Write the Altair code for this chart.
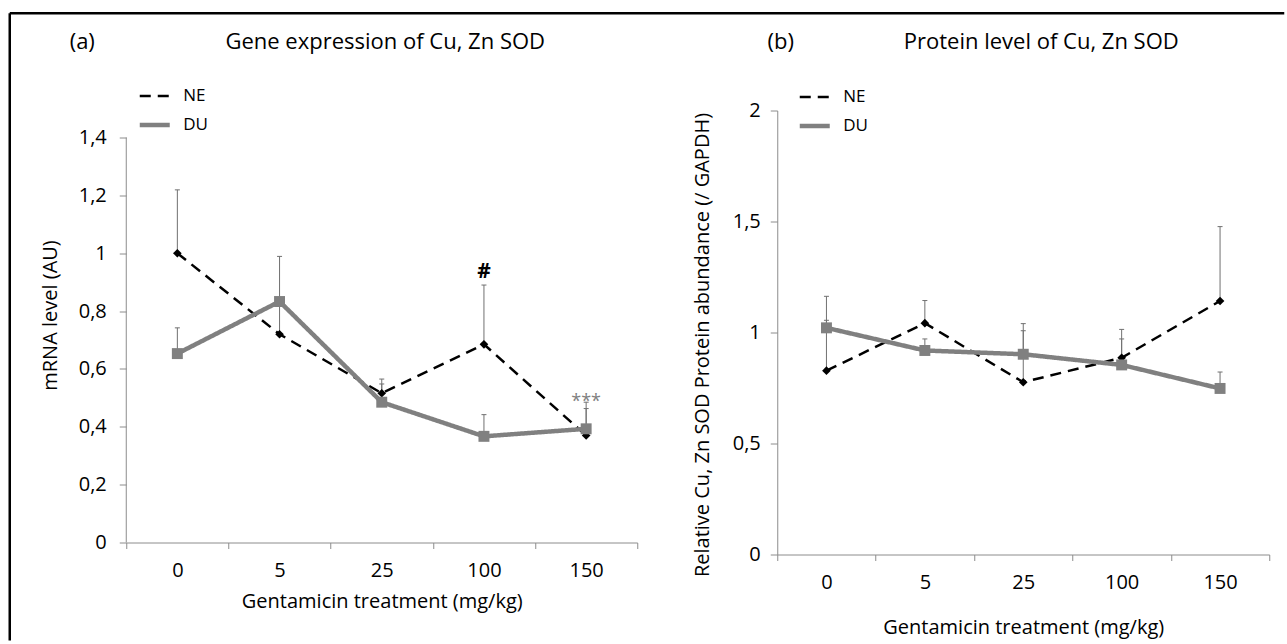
import altair as alt
import pandas as pd

# ---------------- data ----------------
doses = ["0", "5", "25", "100", "150"]
series_names = ["NE", "DU"]

# (a) mRNA level (AU): mean and top of the (upper) error bar
mrna_ne = [1.0, 0.72, 0.516, 0.685, 0.37]
mrna_ne_err = [1.219, 0.83, 0.565, 0.89, 0.485]
mrna_du = [0.653, 0.833, 0.485, 0.367, 0.393]
mrna_du_err = [0.742, 0.989, 0.548, 0.442, 0.463]

# (b) relative protein abundance (/ GAPDH)
prot_ne = [0.828, 1.042, 0.776, 0.886, 1.142]
prot_ne_err = [1.055, 1.144, 1.04, 1.014, 1.477]
prot_du = [1.021, 0.919, 0.902, 0.854, 0.748]
prot_du_err = [1.163, 0.971, 1.008, 0.971, 0.822]

mrna_ticks = [0, 0.2, 0.4, 0.6, 0.8, 1.0, 1.2, 1.4]
prot_ticks = [0, 0.5, 1.0, 1.5, 2.0]

# significance marks in panel (a)
hash_dose = ["100"]
hash_value = [0.89]
star_dose = ["150"]
star_value = [0.485]

FONT = "Open Sans"
GREY = "#808080"
AXIS_GREY = "#8c8c8c"
ERR_GREY = "#707070"
TICK_FS = 20
XTITLE_FS = 20
YTITLE_FS = 20
TITLE_FS = 22


def make_df(ne, ne_err, du, du_err):
    rows = []
    for s, vals, errs in (("NE", ne, ne_err), ("DU", du, du_err)):
        for d, v, e in zip(doses, vals, errs):
            rows.append({"series": s, "dose": d, "value": v, "err": e})
    return pd.DataFrame(rows)


def panel(df, width, height, ydomain, yticks, ytitle, ytitle_x, ytitle_y,
          y_label_pad, xtitle_y, legend_x, legend_y, tag, tag_x, title,
          title_x, title_y, axis_rule_top=None, extra=None):
    x_enc = alt.X(
        "dose:N", sort=doses, bandPosition=0.5,
        scale=alt.Scale(type="band", paddingInner=0, paddingOuter=0),
        axis=alt.Axis(title="Gentamicin treatment (mg/kg)", labelAngle=0,
                      tickBand="extent", tickSize=6, labelPadding=12,
                      titleY=xtitle_y, titleFontSize=XTITLE_FS,
                      labelFontSize=TICK_FS,
                      domainColor=AXIS_GREY, tickColor=AXIS_GREY,
                      labelColor="black", titleColor="black",
                      titleFontWeight="normal"),
    )
    y_enc = alt.Y(
        "value:Q",
        scale=alt.Scale(domain=ydomain, nice=False, zero=True),
        axis=alt.Axis(title=ytitle, values=yticks,
                      labelExpr="replace(datum.value + '', '.', ',')",
                      domain=(axis_rule_top is None), domainColor=AXIS_GREY,
                      tickSize=7, tickColor=AXIS_GREY, labelPadding=y_label_pad,
                      labelFontSize=TICK_FS, titleFontSize=YTITLE_FS,
                      titleFontWeight="normal", titleX=ytitle_x,
                      titleY=ytitle_y, labelColor="black", titleColor="black"),
    )
    leg = alt.Legend(orient="none", legendX=legend_x, legendY=legend_y,
                     title=None, symbolType="stroke", symbolSize=900,
                     labelFont=FONT, labelFontSize=17, labelOffset=11,
                     rowPadding=3, padding=0, labelColor="black")
    color = alt.Color("series:N", scale=alt.Scale(domain=series_names,
                      range=["#000000", GREY]), legend=leg)
    dash = alt.StrokeDash("series:N", scale=alt.Scale(domain=series_names,
                          range=[[11, 7], [1, 0]]), legend=leg)
    sw = alt.StrokeWidth("series:N", scale=alt.Scale(domain=series_names,
                         range=[2.5, 4.5]), legend=leg)

    base = alt.Chart(df)
    ne = base.transform_filter("datum.series == 'NE'")
    du = base.transform_filter("datum.series == 'DU'")

    err_rule = base.mark_rule(color=ERR_GREY, strokeWidth=1).encode(
        x=x_enc, y=y_enc, y2="err:Q")
    err_cap = base.transform_calculate(value="datum.err").mark_tick(
        color=ERR_GREY, thickness=1, size=5, opacity=1).encode(x=x_enc, y=y_enc)
    ne_line = ne.mark_line().encode(x=x_enc, y=y_enc, color=color,
                                    strokeDash=dash, strokeWidth=sw)
    du_line = du.mark_line().encode(x=x_enc, y=y_enc, color=color,
                                    strokeDash=dash, strokeWidth=sw)
    ne_pts = ne.mark_point(shape="diamond", filled=True, size=75,
                           color="black", opacity=1).encode(x=x_enc, y=y_enc)
    du_pts = du.mark_square(size=120, color=GREY, opacity=1).encode(
        x=x_enc, y=y_enc)

    one = pd.DataFrame({"t": [0]})
    tag_txt = alt.Chart(one).mark_text(
        text=tag, font=FONT, fontSize=TITLE_FS, align="center",
        baseline="alphabetic", color="black").encode(
        x=alt.value(tag_x), y=alt.value(title_y))
    title_txt = alt.Chart(one).mark_text(
        text=title, font=FONT, fontSize=TITLE_FS, align="center",
        baseline="alphabetic", color="black").encode(
        x=alt.value(title_x), y=alt.value(title_y))

    layers = [err_rule, err_cap, ne_line, ne_pts, du_line, du_pts,
              tag_txt, title_txt]

    if axis_rule_top is not None:
        ax_df = pd.DataFrame({"value": [0], "err": [axis_rule_top]})
        layers.append(alt.Chart(ax_df).mark_rule(color=AXIS_GREY,
                      strokeWidth=1).encode(x=alt.value(0), y=y_enc,
                                            y2="err:Q"))
    if extra is not None:
        layers.extend(extra(x_enc, y_enc))

    return alt.layer(*layers).properties(width=width, height=height)


# panel (a)
H_A = 432
a_df = make_df(mrna_ne, mrna_ne_err, mrna_du, mrna_du_err)


def a_extra(x_enc, y_enc):
    hash_df = pd.DataFrame({"dose": hash_dose, "value": hash_value,
                            "label": ["#"]})
    star_df = pd.DataFrame({"dose": star_dose, "value": star_value,
                            "label": ["***"]})
    hash_txt = alt.Chart(hash_df).mark_text(
        font=FONT, fontSize=21, fontWeight="bold", color="black",
        baseline="alphabetic", dy=-7).encode(x=x_enc, y=y_enc, text="label:N")
    star_txt = alt.Chart(star_df).mark_text(
        font=FONT, fontSize=18, color=GREY, baseline="alphabetic",
        dy=5).encode(x=x_enc, y=y_enc, text="label:N")
    top = alt.Chart(pd.DataFrame({"t": [0]})).mark_rule(
        color="black", strokeWidth=2.5, strokeCap="butt").encode(
        x=alt.value(-116.5), x2=alt.value(1158), y=alt.value(-97.25))
    left = alt.Chart(pd.DataFrame({"t": [0]})).mark_rule(
        color="black", strokeWidth=2.5, strokeCap="butt").encode(
        x=alt.value(-116.5), y=alt.value(-97.25), y2=alt.value(530))
    return [hash_txt, star_txt, top, left]


panel_a = panel(
    a_df, 511, H_A, [0, 1.4 * H_A / 405], mrna_ticks, "mRNA level (AU)",
    -66, 204.5, 13, 49, 11, -31, "(a)", -44, "Gene expression of Cu, Zn SOD",
    259, -62, axis_rule_top=1.4, extra=a_extra)

# panel (b)
b_df = make_df(prot_ne, prot_ne_err, prot_du, prot_du_err)
panel_b = panel(
    b_df, 492, 444, [0, 2], prot_ticks,
    "Relative Cu, Zn SOD Protein abundance (/ GAPDH)",
    -65, 234, 10, 63, 20, -30, "(b)", 3.5, "Protein level of Cu, Zn SOD",
    264, -61.5)

chart = alt.hconcat(panel_a, panel_b, spacing=140, bounds="flush").resolve_scale(
    x="independent", y="independent", color="independent",
    strokeDash="independent", strokeWidth="independent"
).resolve_legend(
    color="independent", strokeDash="independent", strokeWidth="independent"
).properties(
    padding={"left": 8.25, "top": 11.5, "right": 0, "bottom": 0},
    background="white",
).configure_view(stroke=None).configure_axis(
    grid=False, labelFont=FONT, titleFont=FONT
)

chart.save("out.html", embed_options={"renderer": "svg", "actions": False})
